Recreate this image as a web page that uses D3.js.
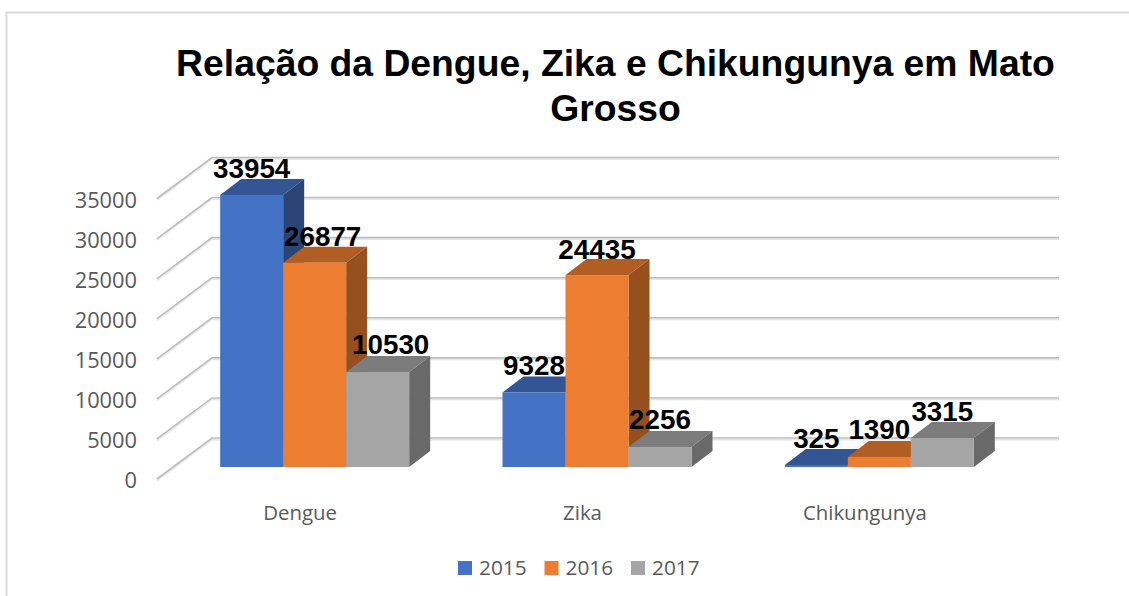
<!DOCTYPE html>
<html lang="pt">
<head>
<meta charset="utf-8">
<script src="https://cdn.jsdelivr.net/npm/d3@7"></script>
<style>
html,body{margin:0;padding:0;background:#fff;}
svg{display:block;}
</style>
</head>
<body>
<svg id="chart" width="1129" height="596"></svg>
<script>
const titleLines = ["Relação da Dengue, Zika e Chikungunya em Mato", "Grosso"];
const categories = ["Dengue", "Zika", "Chikungunya"];
const years = ["2015", "2016", "2017"];
const yTicks = [0, 5000, 10000, 15000, 20000, 25000, 30000, 35000];
// bar heights as drawn in the picture
const heights2015 = [33954, 9300, 250];
const heights2016 = [25500, 23950, 1250];
const heights2017 = [11850, 2500, 3620];
// printed data labels
const labels2015 = ["33954", "9328", "325"];
const labels2016 = ["26877", "24435", "1390"];
const labels2017 = ["10530", "2256", "3315"];
const faces2015 = ["#4472C4", "#335593", "#2A4475"];
const faces2016 = ["#ED7D31", "#B15E24", "#964F1E"];
const faces2017 = ["#A5A5A5", "#7C7C7C", "#696969"];

const heights = [heights2015, heights2016, heights2017];
const labels = [labels2015, labels2016, labels2017];
const faces = [faces2015, faces2016, faces2017];

const svg = d3.select("#chart");
const FONT = "'Open Sans','Noto Sans',sans-serif";
const BOLD = "'Liberation Sans',Arial,sans-serif";

// frame
svg.append("path").attr("d", "M6.5,596V12.5H1129").attr("fill", "none")
  .attr("stroke", "#d9d9d9").attr("stroke-width", 2);

// title
svg.append("g").selectAll("text").data(titleLines).join("text")
  .attr("x", 615.5).attr("y", (d, i) => 76 + i * 45)
  .attr("text-anchor", "middle")
  .style("font", `bold 37.3px ${BOLD}`).attr("fill", "#000").text(d => d);

// 3D geometry
const floorX0 = 157, floorX1 = 1004, floorY = 479;
const wallDX = 55, wallDY = 41;          // depth of the floor
const barDX = 21, barDY = 16;            // depth of each bar
const insetX = 16.5, insetY = 12;        // front of bars from front of floor
const yScale = d3.scaleLinear().domain([0, 35000]).range([floorY, floorY - 280.5]);
const xScale = d3.scaleBand().domain(categories).range([floorX0, floorX1]).paddingInner(0).paddingOuter(0);
const seriesScale = d3.scaleBand().domain(years).range([0, 189]);
const groupOff = (xScale.bandwidth() - 189) / 2;

// gridlines, with the soft shadow
const grid = svg.append("g");
[[1.6, "#e6e6e6"], [0, "#bdbdbd"]].forEach(([off, col]) => {
  grid.append("g").selectAll("path").data(yTicks).join("path")
    .attr("d", d => {
      const y = yScale(d) + off;
      return `M${floorX0},${y}L${floorX0 + wallDX},${y - wallDY}H${floorX1 + wallDX}`;
    })
    .attr("fill", "none").attr("stroke", col)
    .attr("stroke-width", 1.6);
});

// axes
const yAxis = svg.append("g").attr("transform", "translate(137,2)")
  .call(d3.axisLeft(yScale).tickValues(yTicks).tickFormat(d3.format("d")).tickSize(0).tickPadding(0));
yAxis.select(".domain").remove();
yAxis.selectAll("text").attr("fill", "#595959").style("font", `21.8px ${FONT}`);

const xAxis = svg.append("g").attr("transform", "translate(2,506)")
  .call(d3.axisBottom(xScale).tickSize(0).tickPadding(0));
xAxis.select(".domain").remove();
xAxis.selectAll("text").attr("fill", "#595959").style("font", `20.4px ${FONT}`);

// bars
const barTop = v => yScale(v) - insetY;
const barBase = yScale(0) - insetY;
const barLeft = (ci, si) => xScale(categories[ci]) + groupOff + insetX + seriesScale(years[si]);
const w = seriesScale.bandwidth();

years.forEach((yr, si) => {
  const g = svg.append("g").attr("class", "series-" + yr);
  const cells = heights[si].map((v, ci) => ({ v, ci, x: barLeft(ci, si), y: barTop(v) }));
  g.selectAll("path.top").data(cells).join("path").attr("class", "top")
    .attr("fill", faces[si][1])
    .attr("d", d => `M${d.x},${d.y}l${barDX},${-barDY}h${w}l${-barDX},${barDY}Z`);
  g.selectAll("path.side").data(cells).join("path").attr("class", "side")
    .attr("fill", faces[si][2])
    .attr("d", d => `M${d.x + w},${d.y}l${barDX},${-barDY}V${barBase - barDY}l${-barDX},${barDY}Z`);
  g.selectAll("rect").data(cells).join("rect")
    .attr("x", d => d.x).attr("y", d => d.y).attr("width", w)
    .attr("height", d => barBase - d.y).attr("fill", faces[si][0]);
});

// data labels
const nudgeX = { "26877": 8, "10530": 13 };
const nudgeY = { "10530": -2, "2256": -1, "9328": -1, "1390": -1 };
years.forEach((yr, si) => {
  svg.append("g").selectAll("text").data(labels[si]).join("text")
    .attr("x", (d, ci) => barLeft(ci, si) + w / 2 + (nudgeX[d] || 0))
    .attr("y", (d, ci) => barTop(heights[si][ci]) - barDY - 0.5 + (nudgeY[d] || 0))
    .attr("text-anchor", "middle")
    .style("font", `bold 27.8px ${BOLD}`).attr("fill", "#000").text(d => d);
});

// legend
const legend = svg.append("g").selectAll("g").data(years).join("g")
  .attr("transform", (d, i) => `translate(${458 + i * 86.5},561)`);
legend.append("rect").attr("width", 14).attr("height", 14).attr("fill", (d, i) => faces[i][0]);
legend.append("text").attr("x", 21).attr("y", 14)
  .style("font", `20.8px ${FONT}`).attr("fill", "#595959").text(d => d);
</script>
</body>
</html>
